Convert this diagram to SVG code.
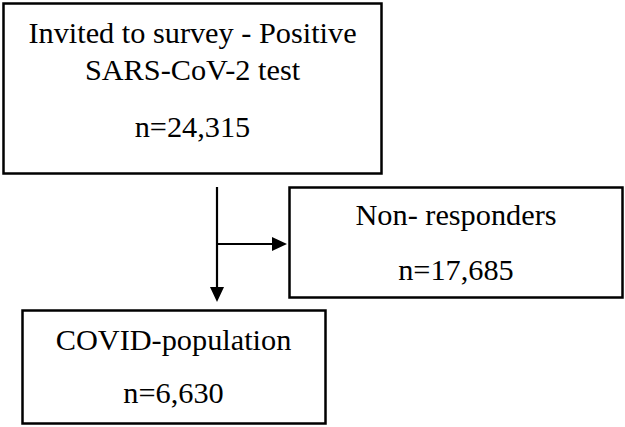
<svg xmlns="http://www.w3.org/2000/svg" width="625" height="427" viewBox="0 0 625 427">
<style>
.box{fill:#fff;stroke:#000;stroke-width:2.5}
.t{font-family:"Liberation Serif","Times New Roman",serif;font-size:30.3px;fill:#000;text-anchor:middle}
.ln{stroke:#000;stroke-width:2.2;fill:none}
</style>
<rect width="625" height="427" fill="#fff"/>
<g id="invited">
<rect class="box" x="3.5" y="3.5" width="378" height="170"/>
<text class="t" x="192.5" y="43">Invited to survey - Positive</text>
<text class="t" x="192.5" y="80">SARS-CoV-2 test</text>
<text class="t" x="192.5" y="137">n=24,315</text>
</g>
<g id="nonresponders">
<rect class="box" x="289.5" y="187.5" width="333" height="110"/>
<text class="t" x="456" y="225">Non- responders</text>
<text class="t" x="456" y="280">n=17,685</text>
</g>
<g id="covid">
<rect class="box" x="22.5" y="310.5" width="303" height="113"/>
<text class="t" x="173.5" y="350">COVID-population</text>
<text class="t" x="173.5" y="403">n=6,630</text>
</g>
<g id="connectors">
<line class="ln" x1="217" y1="187" x2="217" y2="288"/>
<path d="M210,287 L224,287 L217,302 Z" fill="#000"/>
<line class="ln" x1="217" y1="244" x2="273" y2="244"/>
<path d="M272,237 L287,244 L272,251 Z" fill="#000"/>
</g>
</svg>
